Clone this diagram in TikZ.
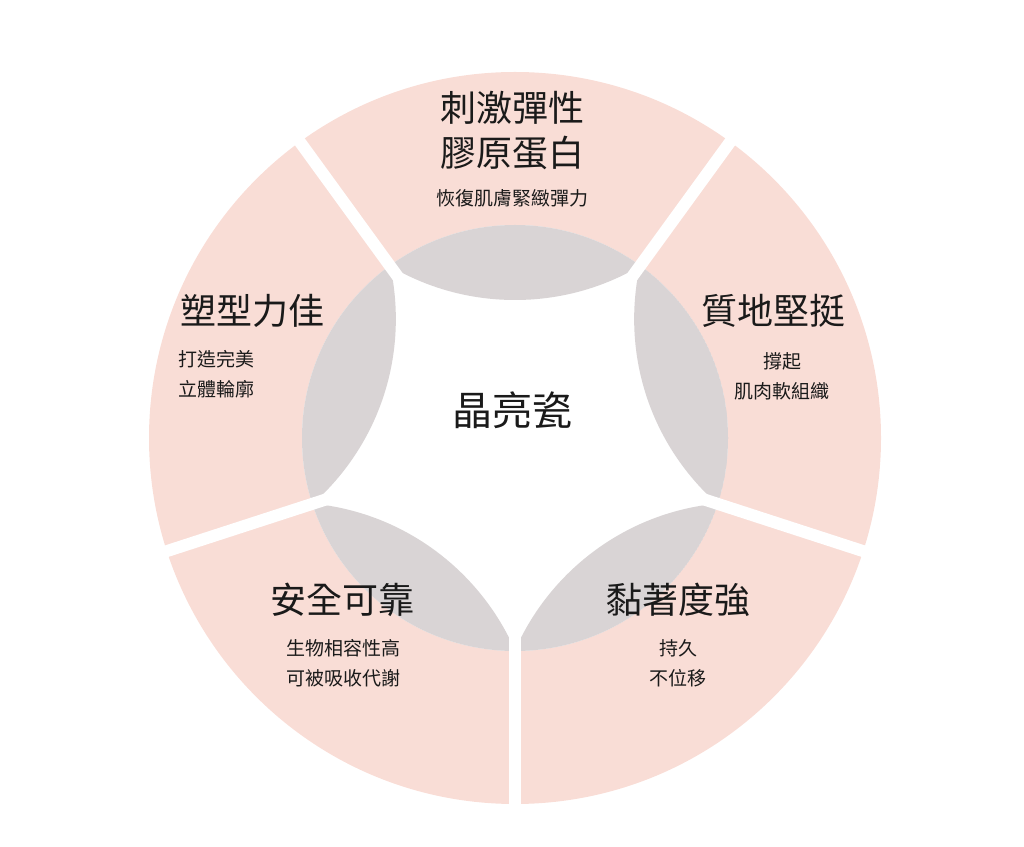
\documentclass[tikz,border=0pt]{standalone}
\usepackage{fontspec}
\usetikzlibrary{calc}
\newfontfamily\cjk{Noto Sans CJK TC}
\begin{document}
\begin{tikzpicture}[x=1pt,y=1pt]
\definecolor{pinkseg}{HTML}{F9DDD6}
\definecolor{grayseg}{HTML}{D9D4D5}
\definecolor{txt}{HTML}{1A1A1A}
\tikzset{
 big/.style={font=\cjk\fontsize{36}{40}\selectfont,text=txt,inner sep=0},
 small/.style={font=\cjk\fontsize{19}{30}\selectfont,text=txt,inner sep=0,align=center},
 mid/.style={font=\cjk\fontsize{40}{44}\selectfont,text=txt,inner sep=0},
}
\useasboundingbox (0,0) rectangle (1024,846);
\coordinate (c) at (515,408);
\fill[pinkseg] (c) circle (366);
\fill[grayseg] (c) circle (213);
\begin{scope}
 \clip (c) circle (213);
 \fill[white] (c) circle (213);
 \foreach \k in {0,...,4}{
  \fill[grayseg] ($(c)+(90+72*\k:385)$) circle (247);
 }
\end{scope}
\foreach \k in {0,...,4}{
 \draw[white,line width=12pt] (c) -- ++(54+72*\k:380);
}
\node[big] (t1) at (512,738) {刺激彈性};
\node[big] (t2) at (512,693) {膠原蛋白};
\node[small] (t3) at (512,648) {恢復肌膚緊緻彈力};
\node[big] (r1) at (773,535) {質地堅挺};
\node[small] (r2) at (782,470) {撐起\\肌肉軟組織};
\node[big] (l1) at (252,535) {塑型力佳};
\node[small,align=left,anchor=west] (l2) at (178,472) {打造完美\\立體輪廓};
\node[big] (bl1) at (342,246) {安全可靠};
\node[small] (bl2) at (343,183) {生物相容性高\\可被吸收代謝};
\node[big] (br1) at (678,246) {黏著度強};
\node[small] (br2) at (678,183) {持久\\不位移};
\node[mid] (ctr) at (512,436) {晶亮瓷};
\end{tikzpicture}
\end{document}
